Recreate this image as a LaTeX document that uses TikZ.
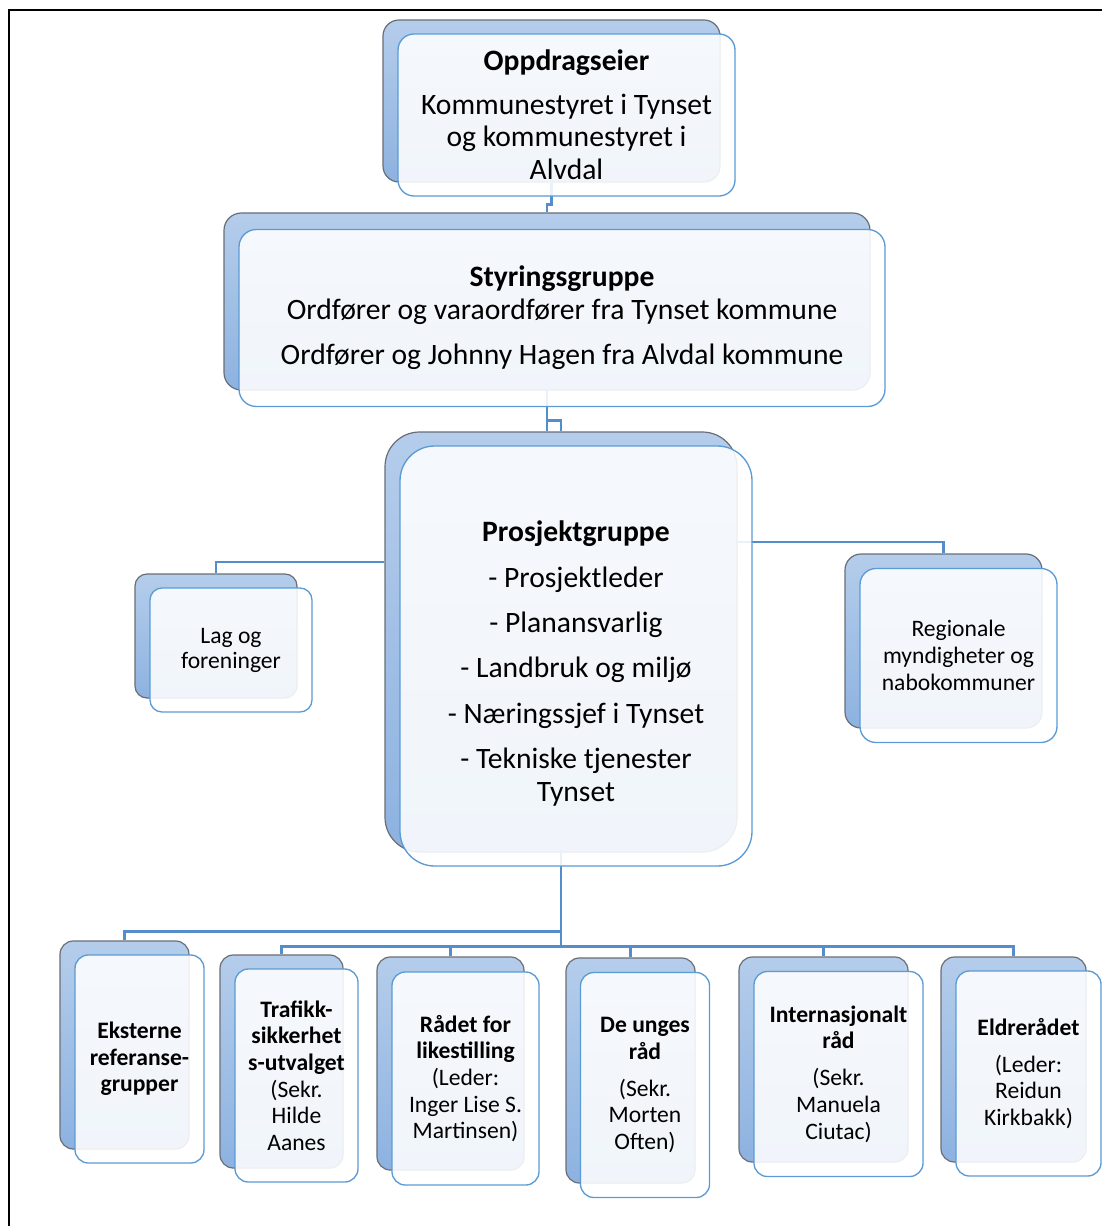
\documentclass[tikz,border=0pt]{standalone}
\usepackage{fontspec}
\setmainfont{Carlito}
\usetikzlibrary{positioning,calc}
\pgfdeclarelayer{bakgrunn}
\pgfsetlayers{bakgrunn,main}
\definecolor{bakljus}{RGB}{181,205,235}
\definecolor{bakmork}{RGB}{141,178,224}
\definecolor{kantgraa}{RGB}{105,110,118}
\definecolor{kantblaa}{RGB}{91,155,213}
\definecolor{linjeblaa}{RGB}{84,141,204}
\tikzset{
bak/.style n args={3}{
  draw=kantgraa,
  line width=0.9pt,
  top color=bakljus,
  bottom color=bakmork,
  rounded corners=#3,
  minimum width=#1*0.75pt,
  minimum height=#2*0.75pt,
  inner sep=0pt
  },
kort/.style n args={3}{
  draw=kantblaa,
  line width=1pt,
  fill=white,
  fill opacity=0.88,
  text opacity=1,
  rounded corners=#3,
  minimum width=#1*0.75pt,
  minimum height=#2*0.75pt,
  align=center,
  inner sep=0pt
  },
stor/.style={font=\fontsize{22.2}{24.5}\selectfont},
liten/.style={font=\fontsize{17.7}{20}\selectfont},
line/.style={draw=linjeblaa, line width=2.1pt}
}

\begin{document}
\begin{tikzpicture}[x=0.75pt,y=0.75pt,yscale=-1,xscale=1]
\useasboundingbox (0,0) rectangle (1101,1226);

% ramme
\draw[line width=2.2pt] (9,1240) -- (9,10) -- (1115,10);

% oppdragseier og styringsgruppe
\node[bak={337}{162}{12pt}] (beier) at (551.5,101) {};
\node[kort={337}{162}{12pt}, stor] (eier) at (566.5,115) {\textbf{Oppdragseier}\\[8pt]Kommunestyret i Tynset\\og kommunestyret i\\Alvdal};

\node[bak={646}{177}{13pt}] (bstyr) at (547,301.5) {};
\node[kort={646}{177}{13pt}, stor] (styr) at (562,318) {\textbf{Styringsgruppe}\\Ordfører og varaordfører fra Tynset kommune\\[9.5pt]Ordfører og Johnny Hagen fra Alvdal kommune};

% prosjektgruppe
\node[bak={352}{420}{26pt}] (bpros) at (561,642) {};
\node[kort={352}{420}{26pt}, stor] (pros) at (576,656) {\rule{0pt}{27pt}\textbf{Prosjektgruppe}\\[9.5pt]- Prosjektleder\\[9.5pt]- Planansvarlig\\[9.5pt]- Landbruk og miljø\\[9.5pt]- Næringssjef i Tynset\\[9.5pt]- Tekniske tjenester\\Tynset};

\node[bak={162}{124}{9pt}] (blag) at (216,636) {};
\node[kort={162}{124}{9pt}, liten, font=\fontsize{17.7}{18.75}\selectfont] (lag) at (231,650) {Lag og\\foreninger};

\node[bak={197}{174}{12pt}] (breg) at (943.5,641) {};
\node[kort={197}{174}{12pt}, liten] (reg) at (958.5,655.5) {Regionale\\myndigheter og\\nabokommuner};

% utvalg og råd
\node[bak={129}{208}{10pt}] (bekst) at (124.5,1045) {};
\node[kort={129}{208}{10pt}, liten] (ekst) at (139.5,1059) {\textbf{Eksterne}\\\textbf{referanse-}\\\textbf{grupper}};

\node[bak={123}{213}{10pt}] (btrafikk) at (281.5,1061.5) {};
\node[kort={123}{213}{10pt}, liten] (trafikk) at (296.5,1075.5) {\textbf{Trafikk-}\\\textbf{sikkerhet}\\\textbf{s-utvalget}\\(Sekr.\\Hilde\\Aanes};

\node[bak={147}{213}{10pt}] (blikest) at (450.5,1063.5) {};
\node[kort={147}{213}{10pt}, liten] (likest) at (465.5,1078.5) {\textbf{Rådet for}\\\textbf{likestilling}\\(Leder:\\Inger Lise S.\\Martinsen)};

\node[bak={129}{225}{10pt}] (bunge) at (630.5,1070.5) {};
\node[kort={129}{225}{10pt}, liten] (unge) at (645,1085) {\textbf{De unges}\\\textbf{råd}\\[7.75pt](Sekr.\\Morten\\Often)};

\node[bak={169}{205}{10pt}] (bintl) at (823.5,1059.5) {};
\node[kort={169}{205}{10pt}, liten] (intl) at (838.5,1074) {\textbf{Internasjonalt}\\\textbf{råd}\\[7.75pt](Sekr.\\Manuela\\Ciutac)};

\node[bak={145}{205}{10pt}] (beldre) at (1013.5,1059.5) {};
\node[kort={145}{205}{10pt}, liten] (eldre) at (1028.5,1073.5) {\textbf{Eldrerådet}\\[7.75pt](Leder:\\Reidun\\Kirkbakk)};

% linjer
\begin{pgfonlayer}{bakgrunn}
\draw[line] (beier.south) -- ++(0,22) -| (bstyr.north);
\draw[line] (bstyr.south) -- (bstyr.south |- bpros.north);
\draw[line] (bstyr.south) -- ++(0,30) -| (bpros.north);
\draw[line] ([yshift=-60pt]bpros.west) -| (blag.north);
\draw[line] ([yshift=-75pt]bpros.east) -| (breg.north);
\draw[line] (bpros.south) -- ++(0,79) -| (bekst.north);
\foreach \n in {trafikk,likest,unge,intl,eldre}
  \draw[line] (bpros.south) -- ++(0,94) -| (b\n.north);
\end{pgfonlayer}

\end{tikzpicture}
\end{document}
